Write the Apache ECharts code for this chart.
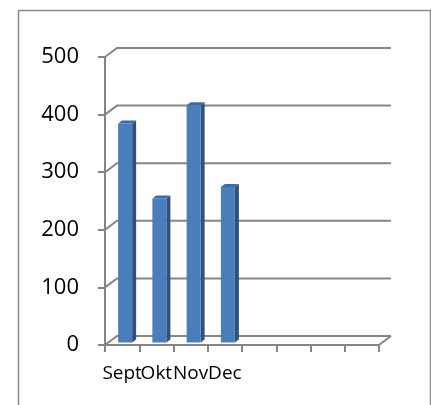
<!DOCTYPE html>
<html>
<head>
<meta charset="utf-8">
<script src="https://cdn.jsdelivr.net/npm/echarts@6/dist/echarts.min.js"></script>
<style>
html,body{margin:0;padding:0;background:#fff;}
#main{width:431px;height:405px;}
</style>
</head>
<body>
<div id="main"></div>
<script>
// Data
const categories = ['Sept', 'Okt', 'Nov', 'Dec', '', '', '', ''];
const values = [380, 250, 412, 270];
const yTicks = [0, 100, 200, 300, 400, 500];

// 3D style parameters
const DEPTH_DX = 12, DEPTH_DY = -9;
const BAR_OFF_X = 3, BAR_OFF_Y = -2.5;
const BAR_W = 14, BAR_DX = 4, BAR_DY = -3;
const GRID_COLOR = '#858585';

const chart = echarts.init(document.getElementById('main'));

function renderGrid(params, api) {
  const cs = params.coordSys;
  const v = api.value(1);
  const y = api.coord([0, v])[1];
  const left = cs.x, right = cs.x + cs.width;
  const children = [{
    type: 'polyline',
    shape: { points: [[left, y], [left + DEPTH_DX, y + DEPTH_DY], [right + DEPTH_DX, y + DEPTH_DY]] },
    style: { stroke: GRID_COLOR, lineWidth: 2, fill: null }
  }];
  if (v === 0) {
    children.push({
      type: 'line',
      shape: { x1: right, y1: y, x2: right + DEPTH_DX, y2: y + DEPTH_DY },
      style: { stroke: GRID_COLOR, lineWidth: 2 }
    });
  }
  return { type: 'group', children: children };
}

function renderBar(params, api) {
  const i = api.value(0), v = api.value(1);
  const c = api.coord([i, v]);
  const b = api.coord([i, 0]);
  const x0 = c[0] - BAR_W / 2 + BAR_OFF_X;
  const x1 = x0 + BAR_W;
  const top = c[1] + BAR_OFF_Y;
  const bot = b[1] + BAR_OFF_Y;
  return {
    type: 'group',
    children: [
      { type: 'polygon', shape: { points: [[x1, top], [x1 + BAR_DX, top + BAR_DY], [x1 + BAR_DX, bot + BAR_DY], [x1, bot]] },
        style: { fill: '#30517f' } },
      { type: 'polygon', shape: { points: [[x0, top], [x0 + BAR_DX, top + BAR_DY], [x1 + BAR_DX, top + BAR_DY], [x1, top]] },
        style: { fill: '#3d6aa3' } },
      { type: 'rect', shape: { x: x0, y: top, width: BAR_W, height: bot - top },
        style: { fill: '#4a7ebb' } }
    ]
  };
}

chart.setOption({
  animation: false,
  backgroundColor: '#fff',
  graphic: [{
    type: 'rect', left: 16, top: 8,
    shape: { width: 412, height: 396 },
    style: { fill: null, stroke: '#8a8a8a', lineWidth: 1.5 },
    z: 100
  }],
  grid: { left: 105, right: 52, top: 57, bottom: 60 },
  xAxis: {
    type: 'category',
    data: categories,
    boundaryGap: true,
    axisLine: { lineStyle: { color: GRID_COLOR, width: 2 } },
    axisTick: { show: true, length: 7, lineStyle: { color: GRID_COLOR, width: 2 } },
    axisLabel: { color: '#000', fontFamily: 'Open Sans', fontSize: 19, margin: 19, interval: 0 },
    splitLine: { show: false }
  },
  yAxis: {
    type: 'value',
    min: 0, max: 500, interval: 100,
    axisLine: { show: true, lineStyle: { color: GRID_COLOR, width: 2 } },
    axisTick: { show: true, length: 7, lineStyle: { color: GRID_COLOR, width: 2 } },
    axisLabel: {
      color: '#000', fontFamily: 'Open Sans', fontSize: 22, margin: 26,
      formatter: function (val) { return yTicks.indexOf(val) >= 0 ? String(val) : ''; }
    },
    splitLine: { show: false }
  },
  series: [
    {
      type: 'custom',
      clip: false,
      z: 1,
      renderItem: renderGrid,
      data: yTicks.map(function (t) { return [0, t]; })
    },
    {
      type: 'custom',
      clip: false,
      z: 2,
      renderItem: renderBar,
      data: values.map(function (v, i) { return [i, v]; })
    }
  ]
});
</script>
</body>
</html>
